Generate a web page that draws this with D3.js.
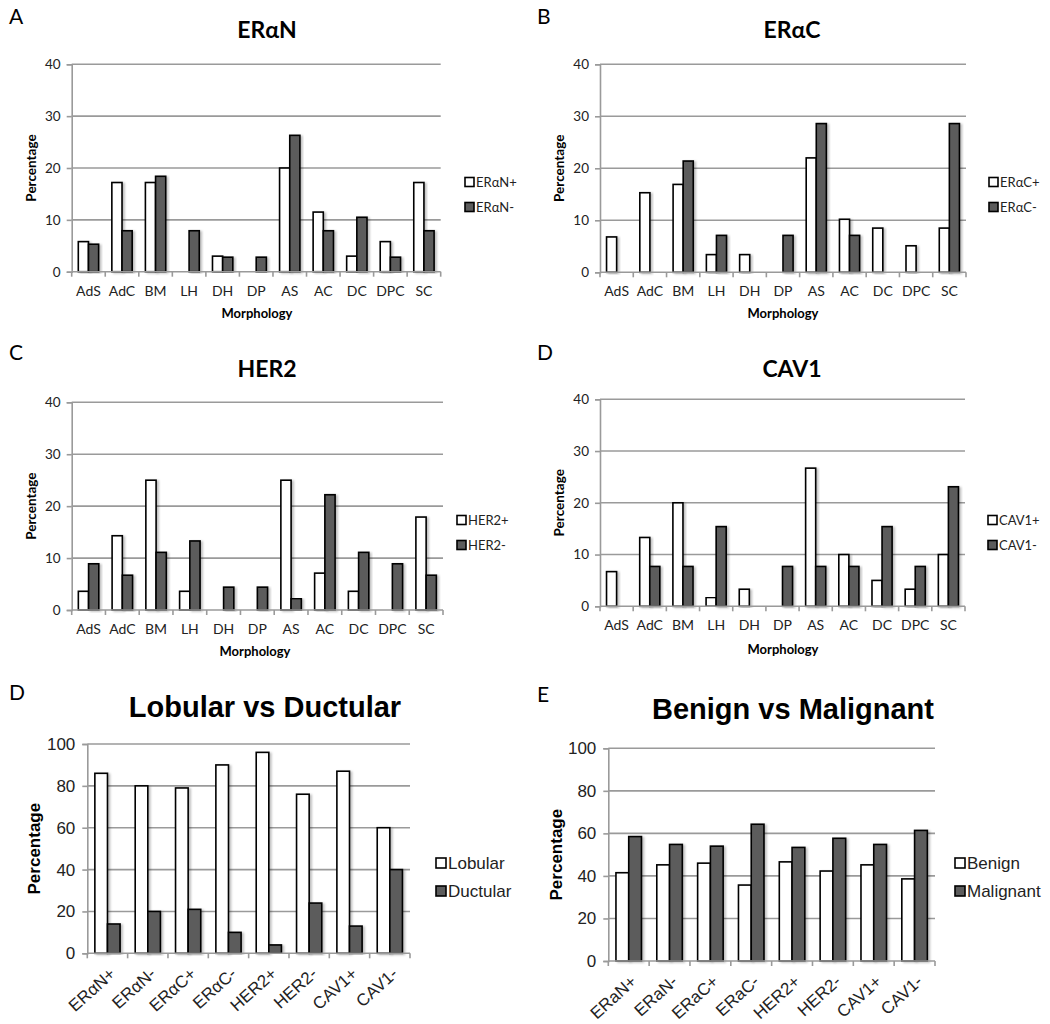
<!DOCTYPE html>
<html>
<head>
<meta charset="utf-8">
<script src="https://cdn.jsdelivr.net/npm/d3@7"></script>
<style>
  body { margin: 0; background: #fff; }
</style>
</head>
<body>
<div id="chart"></div>
<script>
// Morphology panels (A-D)
const morphology = ["AdS", "AdC", "BM", "LH", "DH", "DP", "AS", "AC", "DC", "DPC", "SC"];
const eranPos = [5.8, 17.2, 17.2, 0, 3.0, 0, 20.0, 11.5, 3.0, 5.8, 17.2];
const eranNeg = [5.3, 7.9, 18.4, 7.9, 2.8, 2.8, 26.3, 7.9, 10.5, 2.8, 7.9];
const eracPos = [6.8, 15.3, 16.9, 3.4, 3.4, 0, 22.0, 10.2, 8.5, 5.1, 8.5];
const eracNeg = [0, 0, 21.4, 7.1, 0, 7.1, 28.6, 7.1, 0, 0, 28.6];
const her2Pos = [3.6, 14.3, 25.0, 3.6, 0, 0, 25.0, 7.1, 3.6, 0, 17.9];
const her2Neg = [8.9, 6.7, 11.1, 13.3, 4.4, 4.4, 2.2, 22.2, 11.1, 8.9, 6.7];
const cav1Pos = [6.7, 13.3, 20.0, 1.7, 3.3, 0, 26.7, 10.0, 5.0, 3.3, 10.0];
const cav1Neg = [0, 7.7, 7.7, 15.4, 0, 7.7, 7.7, 7.7, 15.4, 7.7, 23.1];
const morphTicks = [0, 10, 20, 30, 40];

// Lobular vs Ductular
const markersLD = ["ERαN+", "ERαN-", "ERαC+", "ERαC-", "HER2+", "HER2-", "CAV1+", "CAV1-"];
const lobular = [86, 80, 79, 90, 96, 76, 87, 60];
const ductular = [14, 20, 21, 10, 4, 24, 13, 40];

// Benign vs Malignant
const markersBM = ["ERaN+", "ERaN-", "ERaC+", "ERaC-", "HER2+", "HER2-", "CAV1+", "CAV1-"];
const benign = [41.5, 45.2, 46.0, 35.7, 46.6, 42.3, 45.2, 38.6];
const malignant = [58.5, 54.8, 54.0, 64.3, 53.4, 57.7, 54.8, 61.4];
const pctTicks = [0, 20, 40, 60, 80, 100];

const svg = d3.select("#chart").append("svg")
  .attr("width", 1050)
  .attr("height", 1024);

// soft excel-like shadow on the bars
svg.append("defs").append("filter")
    .attr("id", "shadow")
    .attr("x", "-20%").attr("y", "-5%")
    .attr("width", "160%").attr("height", "110%")
  .append("feDropShadow")
    .attr("dx", 2).attr("dy", 1)
    .attr("stdDeviation", 1.2)
    .attr("flood-color", "#000")
    .attr("flood-opacity", 0.25);

const WHITE = "#ffffff";
const DARK = "#5c5c5c";
const GRID = "#9a9a9a";

function drawPanel(o) {
  const g = svg.append("g");
  const x = d3.scaleBand().domain(o.cats).range([o.x0, o.x1]);
  const y = d3.scaleLinear().domain([0, o.max]).range([o.y0, o.y1]);
  const sub = d3.scaleBand().domain([0, 1]).range([0, x.bandwidth()])
    .paddingInner(0).paddingOuter(o.outer);

  // gridlines
  g.append("g")
    .selectAll("line")
    .data(o.ticks.filter(d => d > 0))
    .join("line")
      .attr("x1", o.x0).attr("x2", o.x1)
      .attr("y1", d => y(d)).attr("y2", d => y(d))
      .attr("stroke", GRID).attr("stroke-width", 1.6);

  // y axis
  const ya = g.append("g")
    .attr("transform", `translate(${o.x0},0)`)
    .call(d3.axisLeft(y).tickValues(o.ticks).tickSize(5).tickPadding(o.tickPad));
  ya.select(".domain").attr("stroke", GRID).attr("stroke-width", 1.6);
  ya.selectAll(".tick line").attr("stroke", GRID).attr("stroke-width", 1.6);
  ya.selectAll("text")
    .style("font-family", o.font)
    .style("font-size", o.tickSize + "px")
    .attr("fill", "#222");

  // bars
  const series = [o.a, o.b];
  series.forEach((vals, si) => {
    g.append("g")
      .selectAll("rect")
      .data(o.cats.map((c, i) => ({c, v: vals[i]})).filter(d => d.v > 0))
      .join("rect")
        .attr("x", d => x(d.c) + sub(si))
        .attr("y", d => y(d.v))
        .attr("width", sub.bandwidth())
        .attr("height", d => y(0) - y(d.v))
        .attr("fill", si === 0 ? WHITE : DARK)
        .attr("stroke", "#000")
        .attr("stroke-width", 1.6)
        .attr("filter", "url(#shadow)");
  });

  // x axis line and boundary ticks
  g.append("line")
    .attr("x1", o.x0).attr("x2", o.x1)
    .attr("y1", o.y0).attr("y2", o.y0)
    .attr("stroke", GRID).attr("stroke-width", 1.6);
  g.append("g")
    .selectAll("line")
    .data(o.cats.map(c => x(c)).concat([o.x1]))
    .join("line")
      .attr("x1", d => d).attr("x2", d => d)
      .attr("y1", o.y0).attr("y2", o.y0 + 5)
      .attr("stroke", GRID).attr("stroke-width", 1.6);

  // x labels
  const lab = g.append("g")
    .selectAll("text")
    .data(o.cats)
    .join("text")
      .style("font-family", o.font)
      .style("font-size", o.catSize + "px")
      .attr("fill", "#222")
      .text(d => d);
  if (o.rotate) {
    lab.attr("text-anchor", "end")
      .attr("transform", d => `translate(${x(d) + x.bandwidth() / 2 + 9},${o.y0 + 22}) rotate(-42)`);
  } else {
    lab.attr("text-anchor", "middle")
      .attr("x", d => x(d) + x.bandwidth() / 2)
      .attr("y", o.y0 + 24);
  }

  // titles
  svg.append("text")
    .attr("x", o.titleX).attr("y", o.titleY)
    .attr("text-anchor", "middle")
    .style("font-family", o.font)
    .style("font-weight", "bold")
    .style("font-size", o.titleSize + "px")
    .text(o.title);

  svg.append("text")
    .attr("x", o.letterX).attr("y", o.letterY)
    .style("font-family", "Lato")
    .style("font-size", "21px")
    .text(o.letter);

  svg.append("text")
    .attr("transform", `translate(${o.ylabX},${(o.y0 + o.y1) / 2}) rotate(-90)`)
    .attr("text-anchor", "middle")
    .style("font-family", o.font)
    .style("font-weight", "bold")
    .style("font-size", o.ylabSize + "px")
    .text("Percentage");

  if (o.xlab) {
    svg.append("text")
      .attr("x", o.xlabX).attr("y", o.xlabY)
      .attr("text-anchor", "middle")
      .style("font-family", o.font)
      .style("font-weight", "bold")
      .style("font-size", "13px")
      .text(o.xlab);
  }

  // legend
  const leg = svg.append("g")
    .selectAll("g")
    .data(o.keys)
    .join("g")
      .attr("transform", (d, i) => `translate(${o.legX},${o.legY + i * o.legGap})`);
  leg.append("rect")
    .attr("x", 0).attr("y", -o.legBox / 2)
    .attr("width", o.legBox).attr("height", o.legBox)
    .attr("fill", (d, i) => i === 0 ? WHITE : DARK)
    .attr("stroke", "#000").attr("stroke-width", 1.6);
  leg.append("text")
    .attr("x", o.legBox + 2).attr("dy", "0.35em")
    .style("font-family", o.font)
    .style("font-size", o.legSize + "px")
    .attr("fill", "#222")
    .text(d => d);
}

const topOpts = {
  cats: morphology, max: 40, ticks: morphTicks, outer: 0.65,
  font: "Lato", tickSize: 13.5, catSize: 14, titleSize: 23, ylabSize: 13.5,
  tickPad: 6, legBox: 9, legGap: 25, legSize: 13, xlab: "Morphology"
};

drawPanel({...topOpts, a: eranPos, b: eranNeg, keys: ["ERαN+", "ERαN-"],
  x0: 71.7, x1: 440.7, y0: 271.7, y1: 64.3,
  title: "ERαN", titleX: 267, titleY: 38, letter: "A", letterX: 9, letterY: 24,
  ylabX: 36, xlabX: 257, xlabY: 318, legX: 465, legY: 182});

drawPanel({...topOpts, a: eracPos, b: eracNeg, keys: ["ERαC+", "ERαC-"],
  x0: 600, x1: 966, y0: 272.3, y1: 64.3,
  title: "ERαC", titleX: 792, titleY: 38, letter: "B", letterX: 537, letterY: 24,
  ylabX: 564, xlabX: 783, xlabY: 318, legX: 989, legY: 182});

drawPanel({...topOpts, a: her2Pos, b: her2Neg, keys: ["HER2+", "HER2-"],
  x0: 71.7, x1: 443, y0: 610, y1: 402.3,
  title: "HER2", titleX: 267, titleY: 377, letter: "C", letterX: 9, letterY: 360,
  ylabX: 36, xlabX: 255, xlabY: 656, legX: 457, legY: 520});

drawPanel({...topOpts, a: cav1Pos, b: cav1Neg, keys: ["CAV1+", "CAV1-"],
  x0: 600, x1: 965, y0: 606.3, y1: 399.3,
  title: "CAV1", titleX: 792, titleY: 377, letter: "D", letterX: 537, letterY: 360,
  ylabX: 564, xlabX: 783, xlabY: 654, legX: 988, legY: 520});

const bottomOpts = {
  max: 100, ticks: pctTicks, outer: 0.6, rotate: true,
  font: "Liberation Sans", tickSize: 17, catSize: 17, titleSize: 29, ylabSize: 17,
  tickPad: 7, legBox: 10, legGap: 28, legSize: 17
};

drawPanel({...bottomOpts, cats: markersLD, a: lobular, b: ductular, keys: ["Lobular", "Ductular"],
  x0: 87.3, x1: 410, y0: 953.3, y1: 744,
  title: "Lobular vs Ductular", titleX: 265, titleY: 717, letter: "D", letterX: 9, letterY: 700,
  ylabX: 40, legX: 436, legY: 863});

drawPanel({...bottomOpts, cats: markersBM, a: benign, b: malignant, keys: ["Benign", "Malignant"],
  x0: 608.3, x1: 935, y0: 961, y1: 748.3,
  title: "Benign vs Malignant", titleX: 793, titleY: 719, letter: "E", letterX: 537, letterY: 702,
  ylabX: 562, legX: 955, legY: 863});
</script>
</body>
</html>
